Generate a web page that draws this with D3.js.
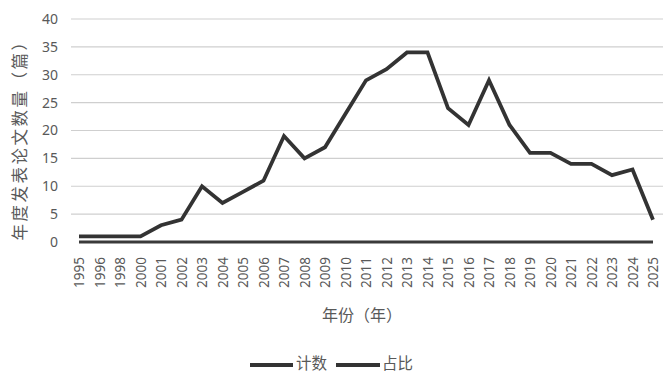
<!DOCTYPE html>
<html><head><meta charset="utf-8">
<script src="https://cdn.jsdelivr.net/npm/d3@7"></script>
<style>
html,body{margin:0;padding:0;background:#fff;}
text{font-family:"Noto Sans CJK SC","Noto Sans",sans-serif;fill:#595959;}
</style></head>
<body><svg id="c" width="666" height="375"></svg>
<script>
const years = ["1995","1996","1998","2000","2001","2002","2003","2004","2005","2006","2007","2008","2009","2010","2011","2012","2013","2014","2015","2016","2017","2018","2019","2020","2021","2022","2023","2024","2025"];
const countValues = [1,1,1,1,3,4,10,7,9,11,19,15,17,23,29,31,34,34,24,21,29,21,16,16,14,14,12,13,4];
const shareValues = [0,0,0,0,0,0,0,0,0,0,0,0,0,0,0,0,0,0,0,0,0,0,0,0,0,0,0,0,0];
const yTicks = [0,5,10,15,20,25,30,35,40];
const seriesNames = ["计数","占比"];
const yTitle = "年度发表论文数量（篇）";
const xTitle = "年份（年）";

const svg = d3.select("#c");
const x = d3.scalePoint().domain(years).range([79,653]);
const y = d3.scaleLinear().domain([0,40]).range([242,19]);
const gridLeft = 71, gridRight = 663;

svg.append("g").selectAll("line").data(yTicks.filter(d=>d>0)).join("line")
  .attr("x1",gridLeft).attr("x2",gridRight)
  .attr("y1",d=>y(d)).attr("y2",d=>y(d))
  .attr("stroke","#cfcfcf").attr("stroke-width",1.2);

const yAxis = d3.axisLeft(y).tickValues(yTicks).tickSize(0).tickPadding(0);
const ya = svg.append("g").attr("transform","translate(58,0)").call(yAxis);
ya.select(".domain").remove();
ya.selectAll("text").style("font-size","14px").attr("fill","#595959").style("font-family","'Noto Sans','Open Sans',sans-serif");

const xAxis = d3.axisBottom(x).tickSize(0).tickPadding(0);
const xa = svg.append("g").attr("transform","translate(0,242)").call(xAxis);
xa.select(".domain").remove();
xa.selectAll("text")
  .attr("transform","translate(0,15) rotate(-90)")
  .attr("text-anchor","end").attr("dy","0.35em").attr("y",0).attr("x",0)
  .style("font-size","13.5px").attr("fill","#595959").style("font-family","'Noto Sans','Open Sans',sans-serif");

const line = d3.line().x((d,i)=>x(years[i])).y(d=>y(d));
svg.append("path").datum(shareValues).attr("d",line)
  .attr("fill","none").attr("stroke","#3a3a3a").attr("stroke-width",2.8);
svg.append("path").datum(countValues).attr("d",line)
  .attr("fill","none").attr("stroke","#333").attr("stroke-width",3.8).attr("stroke-linejoin","miter");

svg.append("text").attr("transform","translate(20,136) rotate(-90)")
  .attr("text-anchor","middle").attr("dy","0.35em")
  .style("font-size","16.5px").style("letter-spacing","2.5px").text(yTitle);
svg.append("text").attr("x",362).attr("y",315).attr("text-anchor","middle").attr("dy","0.35em")
  .style("font-size","16px").text(xTitle);

const lg = svg.append("g");
const legendItems = [{name:seriesNames[0], x1:250, x2:293, tx:296},{name:seriesNames[1], x1:336, x2:380, tx:382}];
legendItems.forEach(it=>{
  lg.append("line").attr("x1",it.x1).attr("x2",it.x2).attr("y1",365).attr("y2",365)
    .attr("stroke","#333").attr("stroke-width",3.8);
  lg.append("text").attr("x",it.tx).attr("y",364).attr("dy","0.35em").style("font-size","15.5px").text(it.name);
});
</script></body></html>
